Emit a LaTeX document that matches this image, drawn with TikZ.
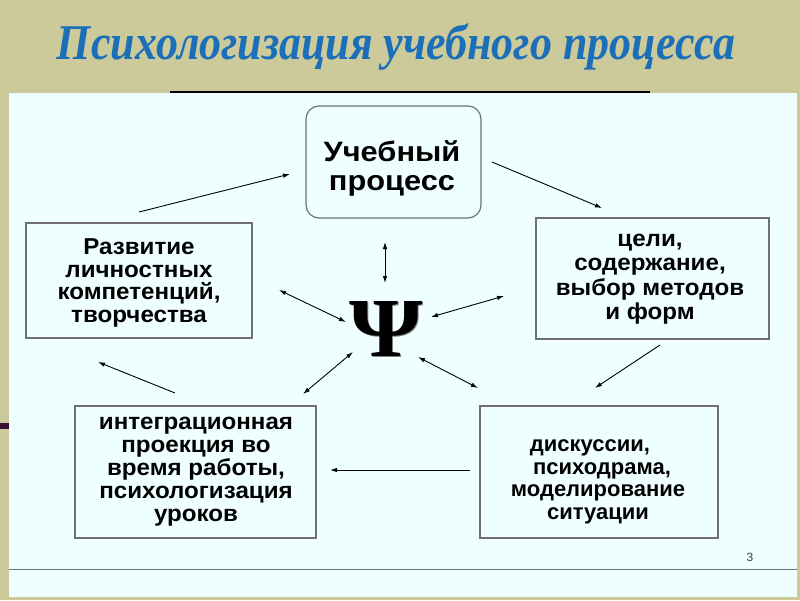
\documentclass[tikz,border=0pt]{standalone}
\usepackage{fontspec}
\setmainfont{Liberation Sans}
\newfontfamily\titlefont[FakeStretch=0.88]{Liberation Serif}
\newfontfamily\psifont[FakeStretch=1.12]{Liberation Serif}
\newfontfamily\boxfont[FakeStretch=1.05]{Liberation Sans}
\newfontfamily\procfont[FakeStretch=1.1]{Liberation Sans}
\usetikzlibrary{arrows.meta}
\definecolor{slidebg}{HTML}{CCC99A}
\definecolor{panelbg}{HTML}{EFFFFF}
\definecolor{titleblue}{HTML}{1A6FB8}
\definecolor{boxline}{HTML}{707070}
\definecolor{ruleline}{HTML}{66777A}
\definecolor{marker}{HTML}{3A1030}
\tikzset{
  box/.style={draw=boxline, line width=1.2pt, inner sep=0pt},
  boxtext/.style={align=center, inner sep=0pt,
    font=\boxfont\bfseries\fontsize{23}{22.5}\selectfont},
  arr/.style={-{Latex[length=7pt,width=4.5pt]}, line width=.9pt},
  darr/.style={{Latex[length=7pt,width=4.5pt]}-{Latex[length=7pt,width=4.5pt]}, line width=.9pt},
}
\begin{document}
\begin{tikzpicture}[x=1pt,y=-1pt]
  % slide and panel
  \fill[slidebg] (0,0) rectangle (800,600);
  \useasboundingbox (0,0) rectangle (800,600);
  \fill[panelbg] (8.5,93) rectangle (797,597);
  \fill[marker] (0,423) rectangle (8.5,428.5);
  \draw[line width=2pt] (170,92) -- (650,92);
  \draw[ruleline, line width=1.5pt] (8.5,569.5) -- (797,569.5);
  \node[text=titleblue, font=\titlefont\bfseries\itshape\fontsize{50}{50}\selectfont]
    (title) at (396,47) {Психологизация учебного процесса};
  % boxes
  \node[box, rounded corners=13pt, minimum width=175pt, minimum height=112pt] (proc) at (393.5,162) {};
  \node[box, minimum width=226pt, minimum height=115pt] (razv) at (139,280.5) {};
  \node[box, minimum width=233pt, minimum height=121pt] (celi) at (652.5,278.5) {};
  \node[box, minimum width=241pt, minimum height=132pt] (integr) at (195.5,472) {};
  \node[box, minimum width=238pt, minimum height=132pt] (disk) at (599,472) {};
  % box texts
  \node[boxtext, font=\procfont\bfseries\fontsize{28}{29}\selectfont] (proct) at (392,168)
    {Учебный\\процесс};
  \node[boxtext] (razvt) at (139,283) {Развитие\\личностных\\компетенций,\\творчества};
  \node[boxtext, font=\boxfont\bfseries\fontsize{23}{24.5}\selectfont] (celit) at (650,279)
    {цели,\\содержание,\\выбор методов\\и форм};
  \node[boxtext, font=\boxfont\bfseries\fontsize{23}{23}\selectfont] (integrt) at (196,472)
    {интеграционная\\проекция во\\время работы,\\психологизация\\уроков};
  \node[boxtext, font=\bfseries\fontsize{22}{22.5}\selectfont] (diskt) at (598,482)
    {дискуссии,\hspace*{16pt}\\\hspace*{8pt}психодрама,\\моделирование\\ситуации};
  % psi
  \node[text=gray, font=\psifont\bfseries\fontsize{84}{84}\selectfont] (psish) at (387.5,330) {Ψ};
  \node[font=\psifont\bfseries\fontsize{84}{84}\selectfont] (psi) at (386,328.5) {Ψ};
  \node[text=darkgray, font=\fontsize{12}{12}\selectfont] (pnum) at (750,557) {3};
  % arrow ends
  \coordinate (c1) at (139,212);   \coordinate (c2) at (290,174);
  \coordinate (c3) at (492,162);   \coordinate (c4) at (602,208);
  \coordinate (c5) at (660,345);   \coordinate (c6) at (595,388);
  \coordinate (c7) at (470,470);   \coordinate (c8) at (330,470);
  \coordinate (c9) at (175,393);   \coordinate (c10) at (98,362);
  \coordinate (p1) at (385,242);   \coordinate (p2) at (385,283);
  \coordinate (p3) at (279,290);   \coordinate (p4) at (346,322);
  \coordinate (p5) at (431,317);   \coordinate (p6) at (504,296);
  \coordinate (p7) at (353,352);   \coordinate (p8) at (303,394);
  \coordinate (p9) at (418,357);   \coordinate (p10) at (478,388);
  % cycle
  \draw[arr] (c1) -- (c2);
  \draw[arr] (c3) -- (c4);
  \draw[arr] (c5) -- (c6);
  \draw[arr] (c7) -- (c8);
  \draw[arr] (c9) -- (c10);
  % to psi
  \draw[darr] (p1) -- (p2);
  \draw[darr] (p3) -- (p4);
  \draw[darr] (p5) -- (p6);
  \draw[darr] (p7) -- (p8);
  \draw[darr] (p9) -- (p10);
\end{tikzpicture}
\end{document}
